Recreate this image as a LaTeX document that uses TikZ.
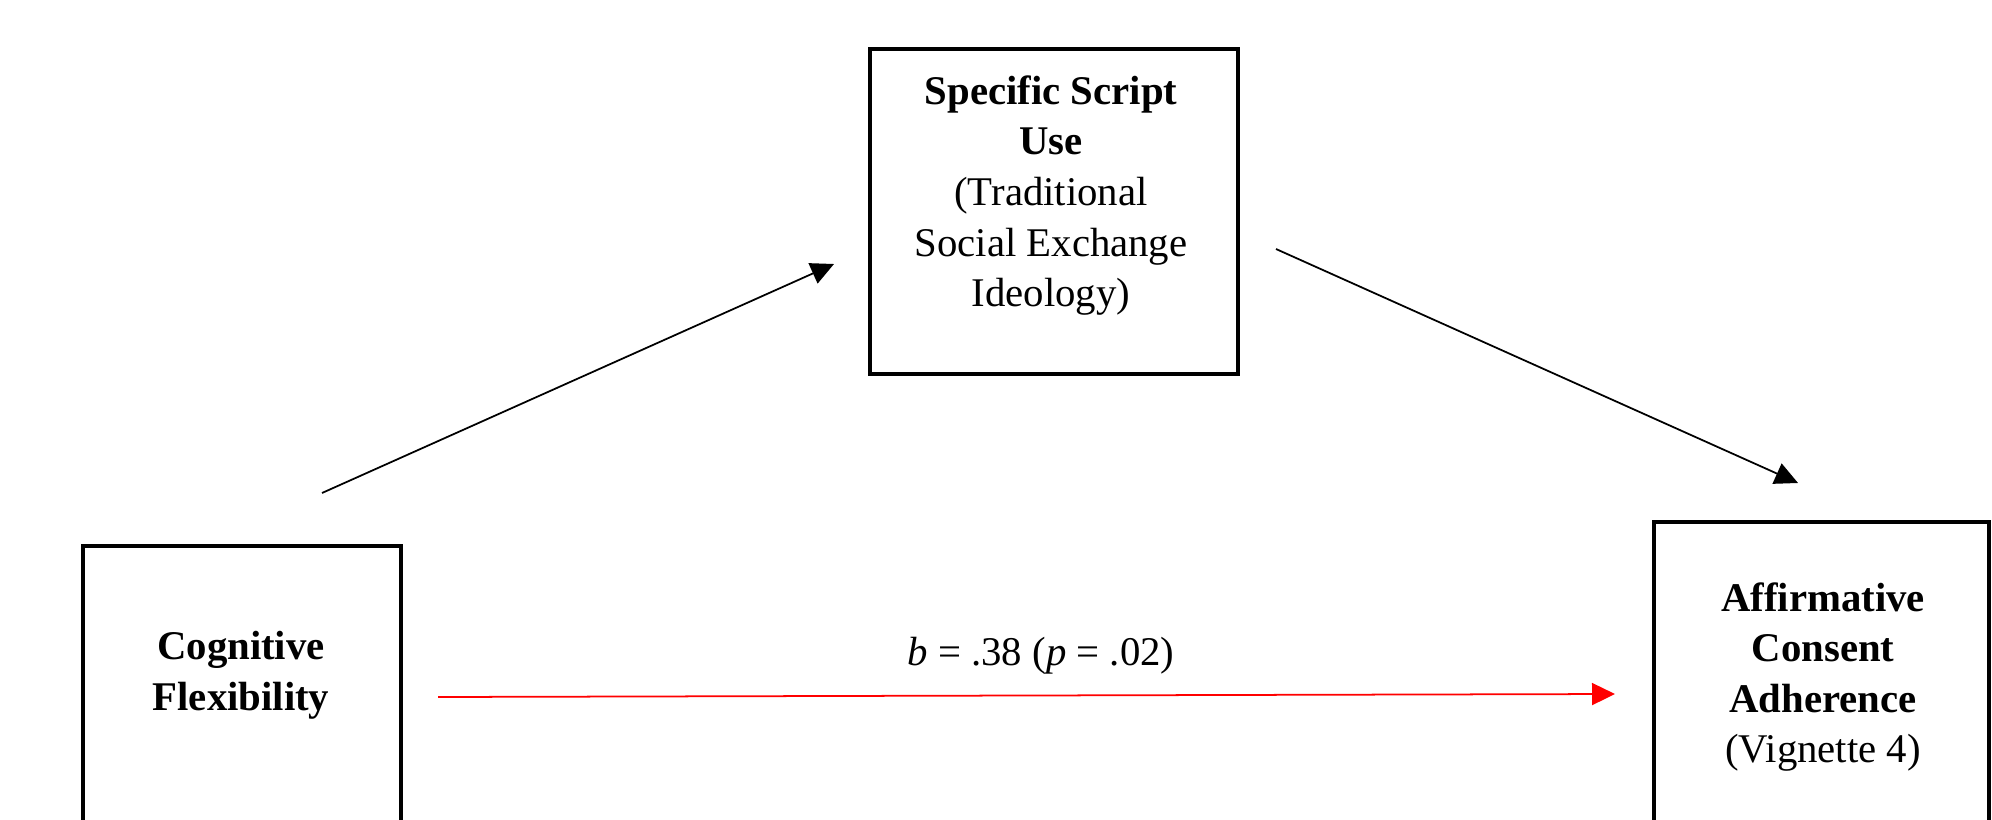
\documentclass[tikz,border=0pt]{standalone}
\usepackage{fontspec}
\setmainfont{Liberation Serif}
\usetikzlibrary{arrows.meta}

\begin{document}
\begin{tikzpicture}[
    box/.style={draw, line width=1pt, inner sep=0pt},
    lbl/.style={align=center, inner sep=0pt, font=\fontsize{11.6}{14.4}\selectfont},
    arr/.style={line width=0.5pt, -{Triangle[length=0.23cm, width=0.22cm]}}
  ]
    \useasboundingbox (0,0) rectangle (19.92,8.19);
    % boxes
    \node[box, minimum width=3.68cm, minimum height=3.25cm] (ssu) at (10.54,6.075) {};
    \node[box, minimum width=3.18cm, minimum height=3.23cm] (cf) at (2.42,1.115) {};
    \node[box, minimum width=3.35cm, minimum height=3.47cm] (aca) at (18.215,1.235) {};
    % texts
    \node[lbl] (ssutxt) at (10.51,6.235) {\textbf{Specific Script}\\\textbf{Use}\\(Traditional\\Social Exchange\\Ideology)};
    \node[lbl] (cftxt) at (2.41,1.435) {\textbf{Cognitive}\\\textbf{Flexibility}};
    \node[lbl] (acatxt) at (18.23,1.42) {\textbf{Affirmative}\\\textbf{Consent}\\\textbf{Adherence}\\(Vignette 4)};
    % arrows
    \coordinate (a1s) at (3.22,3.26);
    \coordinate (a1e) at (8.34,5.55);
    \coordinate (a2s) at (12.76,5.70);
    \coordinate (a2e) at (17.98,3.36);
    \coordinate (cs) at (4.38,1.22);
    \coordinate (ce) at (16.15,1.25);
    \draw[arr] (a1s) -- (a1e);
    \draw[arr] (a2s) -- (a2e);
    \draw[arr, red] (cs) -- (ce);
    \node[lbl, anchor=base] (coef) at (10.41,1.54) {\textit{b} = .38 (\textit{p} = .02)};
  \end{tikzpicture}
\end{document}
